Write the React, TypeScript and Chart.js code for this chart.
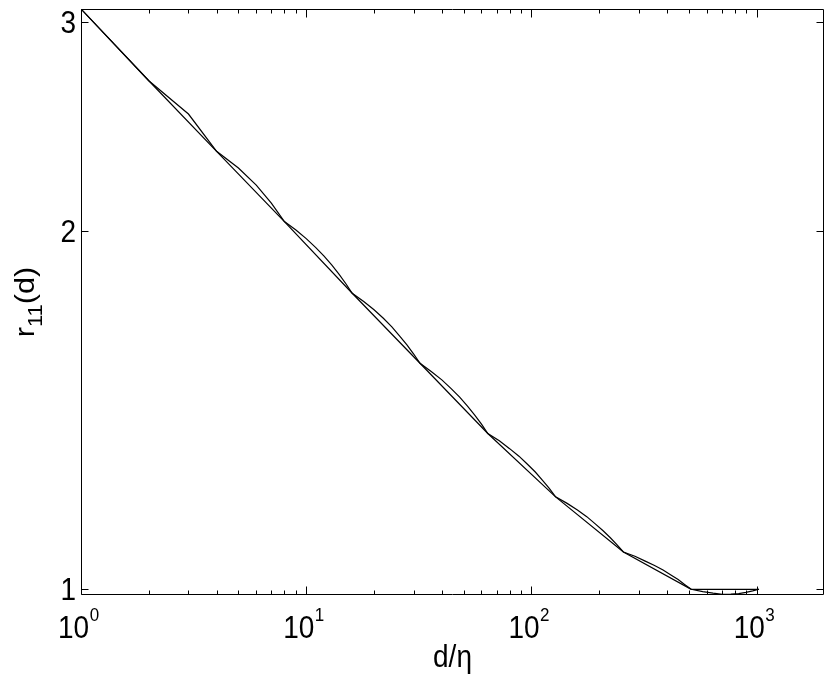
import React, { useEffect, useRef } from "react";
import { Chart, registerables } from "chart.js";

Chart.register(...registerables);

// values at powers of two (segmented straight line)
const powerD = [1, 2, 4, 8, 16, 32, 64, 128, 256, 512, 1024];
const powerR = [3.076, 2.677, 2.335, 2.038, 1.774, 1.549, 1.352, 1.196, 1.075, 1.0, 1.0];

// r11(d) curve
const curveD = [
  1, 2, 3, 4, 5, 6, 7, 8, 9, 10, 11, 12, 13, 14, 15, 16,
  18, 20, 22, 24, 26, 28, 30, 32,
  36, 40, 44, 48, 52, 56, 60, 64,
  72, 80, 88, 96, 104, 112, 120, 128,
  144, 160, 176, 192, 208, 224, 240, 256,
  288, 320, 352, 384, 416, 448, 480, 512,
  576, 640, 704, 768, 832, 896, 960, 1024,
];
const curveR = [
  3.076, 2.677, 2.51, 2.335, 2.261, 2.187, 2.112, 2.038,
  2.005, 1.972, 1.939, 1.906, 1.873, 1.84, 1.807, 1.774,
  1.746, 1.718, 1.69, 1.662, 1.633, 1.605, 1.577, 1.549,
  1.524, 1.5, 1.475, 1.451, 1.426, 1.401, 1.377, 1.352,
  1.333, 1.313, 1.294, 1.274, 1.255, 1.235, 1.216, 1.196,
  1.181, 1.166, 1.151, 1.135, 1.12, 1.105, 1.09, 1.075,
  1.066, 1.056, 1.047, 1.038, 1.028, 1.019, 1.009, 1.0,
  0.9955, 0.9925, 0.9903, 0.9905, 0.9918, 0.994, 0.9968, 1.0,
];

const xMajorTicks = [1, 10, 100, 1000];
const xMajorExp = ["0", "1", "2", "3"];
const xMinorTicks = [
  2, 3, 4, 5, 6, 7, 8, 9,
  20, 30, 40, 50, 60, 70, 80, 90,
  200, 300, 400, 500, 600, 700, 800, 900,
];
const yTicks = [1, 2, 3];
const yTickLabels = ["1", "2", "3"];

const X_MIN = 1;
const X_MAX = 1990;
const Y_MIN = 0.989;
const Y_MAX = 3.076;

const FONT = "Liberation Sans, Arial, Helvetica, sans-serif";
const STRETCH = 1.1;

function stretchedText(
  ctx: CanvasRenderingContext2D,
  text: string,
  x: number,
  y: number,
  font: string,
  align: CanvasTextAlign
) {
  ctx.save();
  ctx.font = font;
  ctx.textAlign = align;
  ctx.textBaseline = "alphabetic";
  ctx.translate(x, y);
  ctx.scale(1, STRETCH);
  ctx.fillText(text, 0, 0);
  ctx.restore();
}

const axesPlugin = {
  id: "matlabAxes",
  afterDraw(chart: any) {
    const ctx = chart.ctx as CanvasRenderingContext2D;
    const { left, right, top, bottom } = chart.chartArea;
    const xs = chart.scales.x;
    const ys = chart.scales.y;
    const L = Math.round(left) + 0.5;
    const R = Math.round(right) - 0.5;
    const T = Math.round(top) + 0.5;
    const B = Math.round(bottom) - 0.5;

    ctx.save();
    ctx.strokeStyle = "#000";
    ctx.lineWidth = 1;
    ctx.beginPath();
    ctx.rect(L, T, R - L, B - T);
    ctx.stroke();

    // x ticks (inward, bottom and top)
    ctx.beginPath();
    const drawX = (v: number, len: number) => {
      const px = Math.round(xs.getPixelForValue(v)) + 0.5;
      ctx.moveTo(px, B);
      ctx.lineTo(px, B - len);
      ctx.moveTo(px, T);
      ctx.lineTo(px, T + len);
    };
    xMajorTicks.forEach((v) => drawX(v, 8));
    xMinorTicks.forEach((v) => drawX(v, 4));
    // y ticks (inward, left and right)
    yTicks.forEach((v) => {
      const py = Math.round(ys.getPixelForValue(v)) + 0.5;
      ctx.moveTo(L, py);
      ctx.lineTo(L + 7, py);
      ctx.moveTo(R, py);
      ctx.lineTo(R - 7, py);
    });
    ctx.stroke();

    ctx.fillStyle = "#000";
    // y tick labels
    yTicks.forEach((v, i) => {
      const py = ys.getPixelForValue(v);
      stretchedText(ctx, yTickLabels[i], 76, py + 11, `28px ${FONT}`, "right");
    });

    // x tick labels 10^k
    xMajorTicks.forEach((v, i) => {
      const px = xs.getPixelForValue(v);
      const x0 = px - 23;
      ctx.font = `28px ${FONT}`;
      const w = ctx.measureText("10").width;
      stretchedText(ctx, "10", x0, 638, `28px ${FONT}`, "left");
      stretchedText(ctx, xMajorExp[i], x0 + w + 0.5, 621, `17px ${FONT}`, "left");
    });

    // x axis title
    stretchedText(ctx, "d/η", (left + right) / 2, 667, `28px ${FONT}`, "center");

    // y axis title r_11(d), rotated
    ctx.save();
    ctx.translate(34, (top + bottom) / 2);
    ctx.rotate(-Math.PI / 2);
    ctx.scale(STRETCH, 1);
    ctx.textAlign = "left";
    ctx.textBaseline = "alphabetic";
    ctx.font = `28px ${FONT}`;
    const wR = ctx.measureText("r").width;
    ctx.font = `20px ${FONT}`;
    const wSub = ctx.measureText("11").width;
    ctx.font = `28px ${FONT}`;
    const wRest = ctx.measureText("(d)").width;
    const total = wR + wSub + wRest;
    let cx = -total / 2;
    ctx.fillText("r", cx, 0);
    cx += wR;
    ctx.font = `20px ${FONT}`;
    ctx.fillText("11", cx, 8);
    cx += wSub;
    ctx.font = `28px ${FONT}`;
    ctx.fillText("(d)", cx, 0);
    ctx.restore();

    ctx.restore();
  },
};

export default function App() {
  const canvasRef = useRef<HTMLCanvasElement | null>(null);

  useEffect(() => {
    document.body.style.margin = "0";
    const canvas = canvasRef.current;
    if (!canvas) return;
    const chart = new Chart(canvas, {
      type: "line",
      data: {
        datasets: [
          {
            label: "powers of two",
            data: powerD.map((d, i) => ({ x: d, y: powerR[i] })),
            borderColor: "#000",
            borderWidth: 1.2,
            pointRadius: 0,
            tension: 0,
            fill: false,
          },
          {
            label: "r11(d)",
            data: curveD.map((d, i) => ({ x: d, y: curveR[i] })),
            borderColor: "#000",
            borderWidth: 1.2,
            pointRadius: 0,
            tension: 0,
            fill: false,
          },
        ],
      },
      options: {
        animation: false,
        responsive: false,
        devicePixelRatio: 1,
        layout: { padding: { left: 81, right: 6, top: 9, bottom: 81 } },
        plugins: {
          legend: { display: false },
          tooltip: { enabled: false },
        },
        scales: {
          x: { type: "logarithmic", min: X_MIN, max: X_MAX, display: false },
          y: { type: "logarithmic", min: Y_MIN, max: Y_MAX, display: false },
        },
      },
      plugins: [axesPlugin],
    });
    return () => chart.destroy();
  }, []);

  return (
    <div style={{ width: 830, height: 676, background: "#fff" }}>
      <canvas ref={canvasRef} width={830} height={676} />
    </div>
  );
}
